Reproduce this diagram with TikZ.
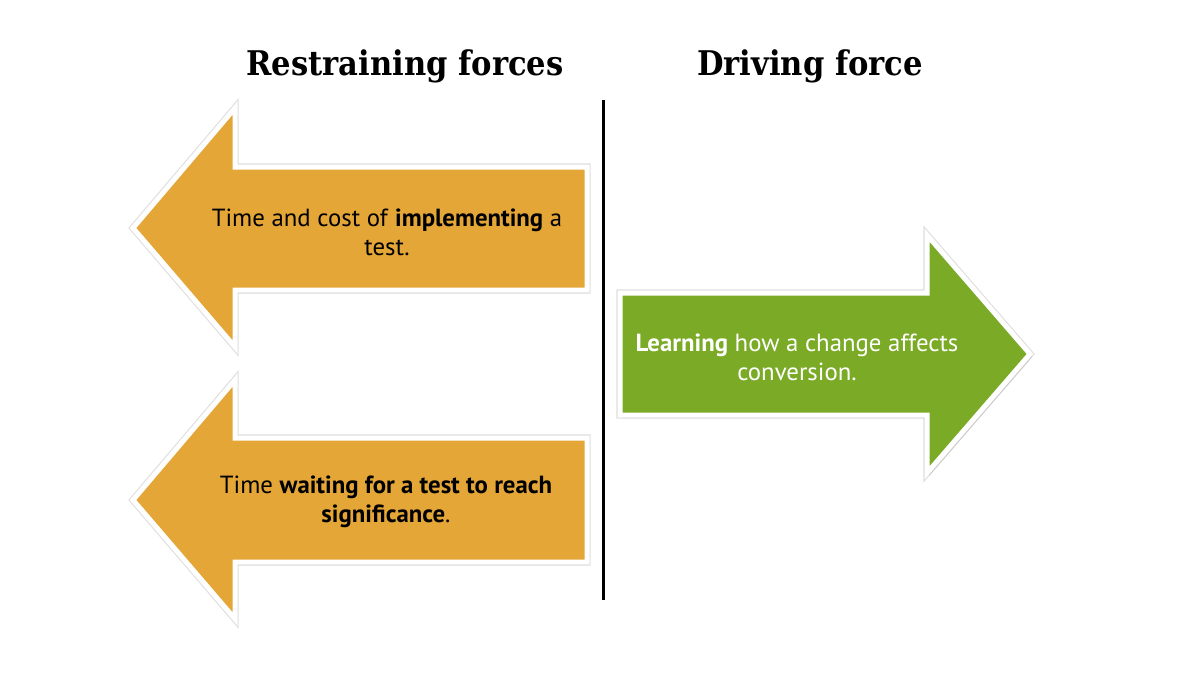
\documentclass[tikz,border=0pt]{standalone}
\usepackage{fontspec}
\setmainfont{PT Sans}
\newfontfamily\titlefont{DejaVu Serif Condensed}
\usetikzlibrary{shadows}
\definecolor{restrainorange}{RGB}{228,166,55}
\definecolor{drivinggreen}{RGB}{122,170,38}

\begin{document}
\begin{tikzpicture}[x=0.5pt, y=-0.5pt,
    forcearrow/.style={draw=white, line width=2.5pt, line join=miter,
        preaction={draw=black!13, line width=3.6pt},
        drop shadow={opacity=0.2, shadow xshift=1.2pt, shadow yshift=-1.5pt}},
    heading/.style={font=\titlefont\bfseries\fontsize{17}{20}\selectfont},
    forcetext/.style={align=center, inner sep=0pt, font=\fontsize{12.4}{14.5}\selectfont}]
        \useasboundingbox (0,0) rectangle (1200,686);

        % headings
        \node[heading] (restraining) at (405,66) {Restraining forces};
        \node[heading] (driving) at (810,66) {Driving force};

        % restraining forces, pointing left
        \path[forcearrow, fill=restrainorange] (133,228) -- (235,108) -- (235,167) -- (587,167)
            -- (587,290) -- (235,290) -- (235,347) -- cycle;
        \path[forcearrow, fill=restrainorange] (133,500) -- (235,380) -- (235,438) -- (587,438)
            -- (587,562) -- (235,562) -- (235,619) -- cycle;

        % driving force, pointing right
        \path[forcearrow, fill=drivinggreen] (620,293) -- (927,293) -- (927,235) -- (1030,354)
            -- (927,473) -- (927,415) -- (620,415) -- cycle;

        \node[forcetext] (cost) at (387,232) {Time and cost of \textbf{implementing} a\\ test.};
        \node[forcetext] (waiting) at (386,502) {Time \textbf{waiting for a test to reach}\\ \textbf{significance}.};
        \node[forcetext, text=white] (learning) at (797,357) {\textbf{Learning} how a change affects\\ conversion.};

        % divider
        \coordinate (divtop) at (603,100);
        \coordinate (divbottom) at (603,600);
        \draw[line width=1.5pt] (divtop) -- (divbottom);
    \end{tikzpicture}
\end{document}
